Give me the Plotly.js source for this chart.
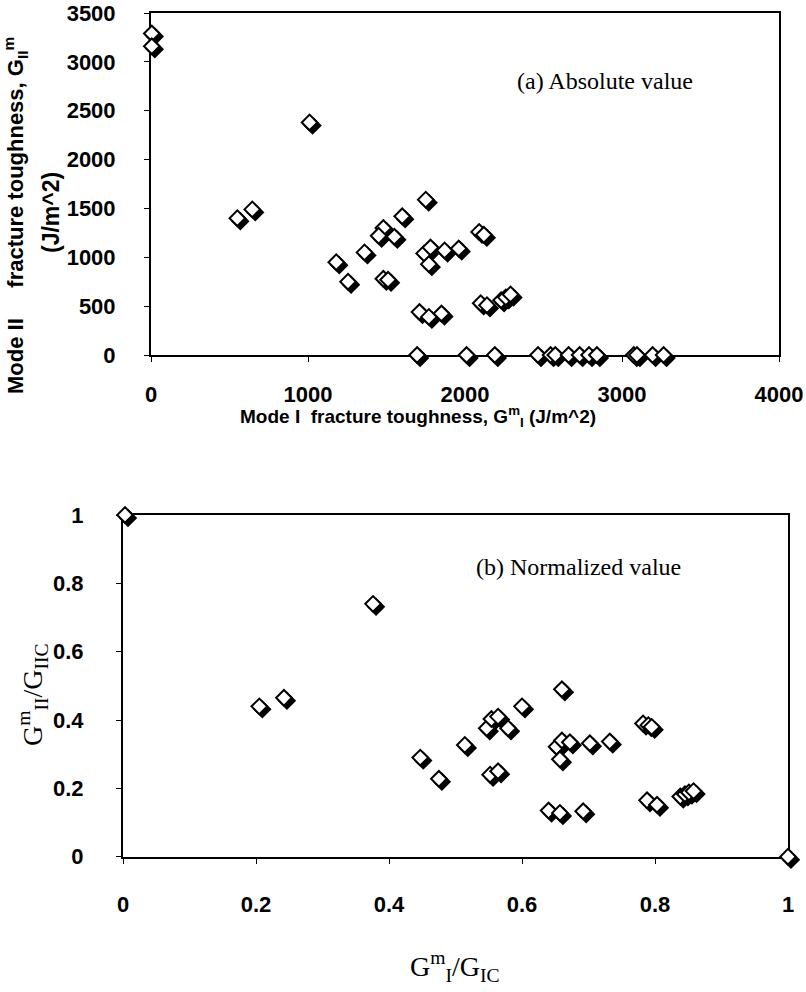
<!DOCTYPE html>
<html>
<head>
<meta charset="utf-8">
<script src="https://cdn.plot.ly/plotly-3.0.1.min.js"></script>
<style>html,body{margin:0;padding:0;background:#fff;}#chart{width:806px;height:992px;}</style>
</head>
<body>
<div id="chart"></div>
<script>
// (a) Absolute value: Mode I vs Mode II fracture toughness (J/m^2)
const absModeI  = [5, 5, 1010, 550, 645, 1750, 1600, 1480, 1450, 1550, 1180, 1255, 1360, 1480, 1510,
                   1710, 1770, 1850, 1740, 1780, 1770, 1870, 1960, 2090, 2120, 2100, 2140, 2230, 2260, 2290,
                   1695, 2010, 2190, 2465, 2545, 2575, 2660, 2730, 2790, 2840, 3075, 3095, 3195, 3265];
const absModeII = [3290, 3160, 2380, 1400, 1490, 1590, 1420, 1300, 1220, 1210, 950, 750, 1050, 780, 770,
                   440, 390, 425, 1040, 1100, 930, 1070, 1090, 1260, 1230, 530, 510, 560, 590, 620,
                   0, 0, 0, 0, 0, 0, 0, 0, 0, 0, 0, 0, 0, 0];
// (b) Normalized value
const normModeI  = [0.003, 1.0, 0.376, 0.205, 0.242, 0.447, 0.475, 0.514, 0.547, 0.554, 0.564, 0.579,
                    0.600, 0.660, 0.552, 0.564, 0.652, 0.660, 0.672, 0.657, 0.702, 0.732, 0.782, 0.790,
                    0.795, 0.640, 0.657, 0.692, 0.788, 0.803, 0.838, 0.845, 0.851, 0.858];
const normModeII = [1.0, 0.0, 0.740, 0.440, 0.465, 0.290, 0.228, 0.327, 0.376, 0.403, 0.410, 0.376,
                    0.440, 0.490, 0.240, 0.250, 0.322, 0.340, 0.335, 0.285, 0.332, 0.337, 0.390, 0.385,
                    0.380, 0.135, 0.128, 0.133, 0.165, 0.152, 0.176, 0.183, 0.188, 0.192];
const absTicksX = [0, 1000, 2000, 3000, 4000];
const absTicksY = [0, 500, 1000, 1500, 2000, 2500, 3000, 3500];
const normTicks = [0, 0.2, 0.4, 0.6, 0.8, 1];
const normTickText = ['0', '0.2', '0.4', '0.6', '0.8', '1'];

const W = 806, H = 992;
// plot-area boxes in pixels
const A = {l: 151, r: 779, t: 13, b: 355, xr: [0, 4000], yr: [0, 3500]};
const B = {l: 123, r: 788, t: 515, b: 856.7, xr: [0, 1], yr: [0, 1]};
const SH = 3; // shadow offset in px

function dom(box, s) {
  s = s || 0;
  return {x: [(box.l + s) / W, (box.r + s) / W], y: [1 - (box.b + s) / H, 1 - (box.t + s) / H]};
}
const dA = dom(A), dB = dom(B), sA = dom(A, SH), sB = dom(B, SH);

const tickFont = {family: 'Liberation Sans, Arial, sans-serif', size: 22, color: '#000', weight: 'bold'};
function visAxis(extra) {
  return Object.assign({
    showline: true, linewidth: 2, linecolor: '#000', mirror: true,
    ticks: 'outside', ticklen: 5, tickwidth: 1, tickcolor: '#000',
    showgrid: false, zeroline: false, tickfont: tickFont, fixedrange: true
  }, extra);
}
function hidAxis(extra) {
  return Object.assign({visible: false, showgrid: false, zeroline: false, fixedrange: true}, extra);
}

const mk = (fill) => ({symbol: 'diamond', size: 12, color: fill, line: {color: '#000', width: 2}});

const traces = [
  {x: [], y: [], type: 'scatter', mode: 'markers', xaxis: 'x', yaxis: 'y', hoverinfo: 'skip'},
  {x: [], y: [], type: 'scatter', mode: 'markers', xaxis: 'x2', yaxis: 'y2', hoverinfo: 'skip'},
  {x: absModeI, y: absModeII, type: 'scatter', mode: 'markers', xaxis: 'x3', yaxis: 'y3', marker: mk('#000'), cliponaxis: false},
  {x: absModeI, y: absModeII, type: 'scatter', mode: 'markers', xaxis: 'x4', yaxis: 'y4', marker: mk('#fff'), cliponaxis: false},
  {x: normModeI, y: normModeII, type: 'scatter', mode: 'markers', xaxis: 'x5', yaxis: 'y5', marker: mk('#000'), cliponaxis: false},
  {x: normModeI, y: normModeII, type: 'scatter', mode: 'markers', xaxis: 'x6', yaxis: 'y6', marker: mk('#fff'), cliponaxis: false}
];

const px = (x) => x / W, py = (y) => 1 - y / H;
const boldSans = (s) => ({family: 'Liberation Sans, Arial, sans-serif', size: s, color: '#000', weight: 'bold'});
const serif = (s) => ({family: 'Liberation Serif, Times New Roman, serif', size: s, color: '#000'});
const ann = (x, y, text, font, angle) => ({
  xref: 'paper', yref: 'paper', x: px(x), y: py(y), xanchor: 'center', yanchor: 'middle',
  text: text, font: font, showarrow: false, textangle: angle || 0
});

const layout = {
  width: W, height: H, margin: {l: 0, r: 0, t: 0, b: 0, pad: 0},
  paper_bgcolor: '#fff', plot_bgcolor: 'rgba(0,0,0,0)', showlegend: false,
  xaxis: visAxis({domain: dA.x, range: A.xr, anchor: 'y', tickvals: absTicksX, ticklabelstandoff: 14}),
  yaxis: visAxis({domain: dA.y, range: A.yr, anchor: 'x', tickvals: absTicksY, ticklabelstandoff: 24}),
  xaxis2: visAxis({domain: dB.x, range: B.xr, anchor: 'y2', tickvals: normTicks, ticktext: normTickText, ticklabelstandoff: 22}),
  yaxis2: visAxis({domain: dB.y, range: B.yr, anchor: 'x2', tickvals: normTicks, ticktext: normTickText, ticklabelstandoff: 28}),
  xaxis3: hidAxis({domain: sA.x, range: A.xr, anchor: 'y3'}),
  yaxis3: hidAxis({domain: sA.y, range: A.yr, anchor: 'x3'}),
  xaxis4: hidAxis({domain: dA.x, range: A.xr, anchor: 'y4'}),
  yaxis4: hidAxis({domain: dA.y, range: A.yr, anchor: 'x4'}),
  xaxis5: hidAxis({domain: sB.x, range: B.xr, anchor: 'y5'}),
  yaxis5: hidAxis({domain: sB.y, range: B.yr, anchor: 'x5'}),
  xaxis6: hidAxis({domain: dB.x, range: B.xr, anchor: 'y6'}),
  yaxis6: hidAxis({domain: dB.y, range: B.yr, anchor: 'x6'}),
  annotations: [
    ann(15, 216, 'Mode II\u00a0\u00a0\u00a0\u00a0\u00a0fracture toughness, G<sub>II</sub><sup>m</sup>', boldSans(22), -90),
    ann(51, 213, '(J/m^2)', boldSans(23), -90),
    ann(418, 416, 'Mode I\u00a0\u00a0fracture toughness, G<sup>m</sup><sub>I</sub> (J/m^2)', boldSans(19)),
    ann(605, 81, '(a) Absolute value', serif(24)),
    ann(578, 567, '(b) Normalized value', serif(24)),
    ann(32, 695, 'G<sup>m</sup><sub>II</sub>/G<sub>IIC</sub>', serif(28), -90),
    ann(455, 966, 'G<sup>m</sup><sub>I</sub>/G<sub>IC</sub>', serif(28))
  ]
};

Plotly.newPlot('chart', traces, layout, {staticPlot: true, displayModeBar: false});
</script>
</body>
</html>
